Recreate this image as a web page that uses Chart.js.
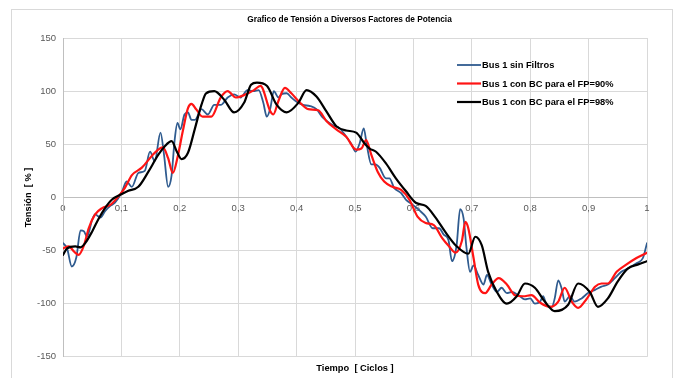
<!DOCTYPE html>
<html>
<head>
<meta charset="utf-8">
<script src="https://cdn.jsdelivr.net/npm/chart.js@4.4.1/dist/chart.umd.min.js"></script>
<style>
  html, body { margin: 0; padding: 0; background: #ffffff; }
  #wrap { position: relative; width: 682px; height: 378px; overflow: hidden; }
  #frame { position: absolute; left: 11px; top: 9px; width: 660px; height: 380px; border: 1px solid #d9d9d9; pointer-events: none; }
  canvas { position: absolute; left: 0; top: 0; }
</style>
</head>
<body>
<div id="wrap">
  <canvas id="c" width="682" height="378"></canvas>
  <div id="frame"></div>
</div>
<script>
// ---- data ----
const chartTitle = 'Grafico de Tensión a Diversos Factores de Potencia';
const seriesNames = ["Bus 1 sin Filtros", "Bus 1 con BC para el FP=90%", "Bus 1 con BC para el FP=98%"];

const tBlue = [0,0.007,0.015,0.023,0.03,0.036,0.041,0.05,0.055,0.064,0.072,0.081,0.089,0.1,0.109,0.118,0.129,0.14,0.149,0.157,0.167,0.173,0.18,0.186,0.191,0.196,0.201,0.208,0.214,0.22,0.226,0.237,0.248,0.259,0.27,0.282,0.293,0.304,0.316,0.326,0.335,0.343,0.349,0.355,0.361,0.369,0.374,0.383,0.391,0.4,0.411,0.423,0.434,0.445,0.462,0.474,0.485,0.494,0.501,0.508,0.515,0.52,0.528,0.535,0.542,0.553,0.559,0.567,0.579,0.587,0.599,0.61,0.621,0.633,0.644,0.652,0.66,0.666,0.674,0.68,0.686,0.691,0.697,0.703,0.711,0.72,0.726,0.734,0.743,0.751,0.76,0.768,0.78,0.791,0.8,0.808,0.817,0.822,0.828,0.837,0.842,0.848,0.854,0.859,0.868,0.876,0.888,0.899,0.911,0.922,0.933,0.945,0.956,0.967,0.982,0.993,1.0];
const vBlue = [-43,-48,-65,-56,-31,-32,-37,-21,-16,-19,-13,-8,-5,4,15,10,23,25,43,34,61,40,10,21,53,70,64,78,80,73,73,83,78,87,87,94,97,94,101,100,101,89,76,84,100,94,97,98,94,90,87,86,83,75,68,65,57,50,43,51,65,50,31,31,28,18,18,9,4,-2,-7,-12,-18,-29,-29,-35,-40,-60,-45,-11,-20,-48,-70,-64,-73,-82,-73,-82,-89,-85,-90,-89,-92,-96,-95,-100,-98,-93,-101,-103,-95,-78,-86,-98,-93,-98,-95,-90,-87,-84,-82,-76,-70,-67,-62,-57,-43];

const tRed = [0,0.01,0.019,0.027,0.036,0.044,0.055,0.067,0.081,0.095,0.106,0.118,0.135,0.152,0.163,0.171,0.18,0.188,0.197,0.205,0.214,0.22,0.228,0.239,0.254,0.27,0.282,0.296,0.313,0.327,0.338,0.355,0.36,0.369,0.38,0.391,0.406,0.42,0.437,0.451,0.468,0.485,0.502,0.511,0.519,0.528,0.539,0.55,0.564,0.579,0.593,0.607,0.621,0.635,0.649,0.661,0.672,0.683,0.689,0.694,0.703,0.711,0.723,0.734,0.746,0.76,0.774,0.788,0.802,0.817,0.834,0.848,0.859,0.871,0.882,0.896,0.911,0.922,0.933,0.948,0.965,0.982,1.0];
const vRed = [-48,-46,-51,-54,-45,-29,-16,-10,-7,1,9,21,28,39,45,47,37,23,40,62,84,88,83,76,76,94,100,94,97,101,105,81,78,91,103,98,89,83,82,72,64,57,45,46,54,40,24,15,10,7,-2,-18,-24,-26,-38,-46,-52,-41,-23,-29,-57,-82,-90,-82,-76,-82,-92,-93,-92,-99,-103,-98,-85,-98,-104,-96,-84,-81,-81,-70,-63,-57,-52];

const tBlack = [0,0.007,0.021,0.03,0.038,0.05,0.061,0.072,0.084,0.1,0.111,0.129,0.146,0.163,0.174,0.186,0.195,0.203,0.214,0.226,0.237,0.245,0.259,0.276,0.293,0.31,0.322,0.332,0.349,0.366,0.383,0.403,0.417,0.434,0.451,0.468,0.485,0.502,0.516,0.525,0.536,0.553,0.57,0.587,0.604,0.621,0.638,0.654,0.674,0.694,0.706,0.717,0.728,0.743,0.76,0.777,0.791,0.808,0.825,0.842,0.865,0.882,0.902,0.916,0.933,0.95,0.967,0.985,1.0];
const vBlack = [-54,-48,-46,-47,-43,-32,-20,-10,-2,3,6,10,24,40,48,53,43,36,42,65,87,98,100,92,80,89,106,108,105,87,80,89,101,95,81,67,63,61,51,46,43,32,18,6,-5,-8,-19,-32,-46,-53,-37,-45,-70,-89,-100,-93,-81,-85,-98,-107,-101,-81,-89,-103,-95,-79,-67,-63,-60,-54];

const yTicks = [-150, -100, -50, 0, 50, 100, 150];
const xTicks = [0, 0.1, 0.2, 0.3, 0.4, 0.5, 0.6, 0.7, 0.8, 0.9, 1];

function pts(t, v) { return t.map((x, i) => ({ x: x, y: v[i] })); }

const colors = ["#2f5b8f", "#ff1414", "#000000"];
const widths = [1.8, 2.2, 2.2];
const FONT = '"Liberation Sans", Arial, sans-serif';

const decorPlugin = {
  id: 'decor',
  afterDraw(chart) {
    const ctx = chart.ctx;
    const ds = chart.data.datasets;
    ctx.save();
    // title
    ctx.font = 'bold 8.3px ' + FONT;
    ctx.fillStyle = '#000000';
    ctx.textAlign = 'center';
    ctx.textBaseline = 'middle';
    ctx.fillText(chartTitle, 349.5, 20);
    // legend inside plot
    const x0 = 457, x1 = 481, tx = 482;
    const ys = [65, 83.5, 102];
    ctx.font = 'bold 9.3px ' + FONT;
    ctx.textAlign = 'left';
    for (let i = 0; i < ds.length; i++) {
      ctx.strokeStyle = ds[i].borderColor;
      ctx.lineWidth = ds[i].borderWidth;
      ctx.beginPath();
      ctx.moveTo(x0, ys[i]);
      ctx.lineTo(x1, ys[i]);
      ctx.stroke();
      ctx.fillStyle = '#000000';
      ctx.fillText(ds[i].label, tx, ys[i] + 0.5);
    }
    ctx.restore();
  }
};

const fmt = v => (Math.round(v * 10) / 10).toString().replace('.', ',');

new Chart(document.getElementById('c'), {
  type: 'line',
  data: {
    datasets: [
      { label: seriesNames[0], data: pts(tBlue, vBlue), borderColor: colors[0], borderWidth: widths[0], order: 2 },
      { label: seriesNames[1], data: pts(tRed, vRed), borderColor: colors[1], borderWidth: widths[1], order: 1 },
      { label: seriesNames[2], data: pts(tBlack, vBlack), borderColor: colors[2], borderWidth: widths[2], order: 0 }
    ]
  },
  plugins: [decorPlugin],
  options: {
    responsive: false,
    animation: false,
    devicePixelRatio: 1,
    elements: {
      point: { radius: 0 },
      line: { cubicInterpolationMode: 'monotone', fill: false, borderCapStyle: 'round', borderJoinStyle: 'round' }
    },
    layout: { padding: { left: 15, right: 35, top: 38, bottom: 2 } },
    plugins: {
      legend: { display: false },
      tooltip: { enabled: false },
      title: { display: false }
    },
    scales: {
      x: {
        type: 'linear',
        min: 0, max: 1,
        position: { y: 0 },
        afterBuildTicks: s => { s.ticks = xTicks.map(v => ({ value: v })); },
        ticks: {
          callback: v => fmt(v),
          color: '#595959',
          padding: 5,
          maxRotation: 0,
          font: { family: FONT, size: 9.5 }
        },
        grid: { color: '#d9d9d9', lineWidth: 1, drawTicks: false },
        border: { color: '#bfbfbf', width: 1 }
      },
      xt: {
        type: 'linear',
        position: 'bottom',
        min: 0, max: 1,
        ticks: { display: false },
        grid: { display: false, drawTicks: false },
        border: { display: false },
        title: {
          display: true,
          text: 'Tiempo  [ Ciclos ]',
          color: '#000000',
          font: { family: FONT, size: 9.3, weight: 'bold' },
          padding: { top: 6, bottom: 2 }
        }
      },
      y: {
        type: 'linear',
        min: -150, max: 150,
        afterBuildTicks: s => { s.ticks = yTicks.map(v => ({ value: v })); },
        afterFit: s => { s.width = 48; },
        ticks: {
          color: '#595959',
          padding: 7,
          font: { family: FONT, size: 9.5 }
        },
        grid: { color: '#d9d9d9', lineWidth: 1, drawTicks: false },
        border: { color: '#bfbfbf', width: 1 },
        title: {
          display: true,
          text: 'Tensión  [ % ]',
          color: '#000000',
          font: { family: FONT, size: 9.3, weight: 'bold' },
          padding: { top: 8, bottom: 0 }
        }
      }
    }
  }
});
</script>
</body>
</html>
